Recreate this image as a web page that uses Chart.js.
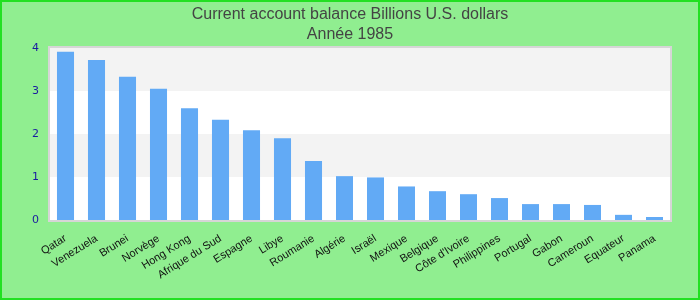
<!DOCTYPE html>
<html>
<head>
<meta charset="utf-8">
<script src="https://cdn.jsdelivr.net/npm/chart.js@4/dist/chart.umd.min.js"></script>
<style>
  body{margin:0;}
  #wrap{width:700px;height:300px;box-sizing:border-box;border:2px solid #22e022;background:#90ee90;position:relative;}
</style>
</head>
<body>
<div id="wrap"><canvas id="chart"></canvas></div>
<script>
const countries = ["Qatar","Venezuela","Brunei","Norvège","Hong Kong","Afrique du Sud","Espagne","Libye","Roumanie","Algérie",
  "Israël","Mexique","Belgique","Côte d'Ivoire","Philippines","Portugal","Gabon","Cameroun","Equateur","Panama"];
const balance = [3.91,3.72,3.33,3.05,2.6,2.33,2.09,1.9,1.37,1.02,0.99,0.78,0.67,0.6,0.51,0.37,0.37,0.35,0.12,0.07];
const yTicks = [0,1,2,3,4];
const titleLines = ["Current account balance Billions U.S. dollars","Année 1985"];

// alternating bands + light frame around the plot
const bands = {
  id:"bands",
  beforeDatasetsDraw(chart){
    const c = chart.ctx, a = chart.chartArea, y = chart.scales.y;
    c.save();
    for(let i=0;i<yTicks.length-1;i++){
      const top = Math.round(y.getPixelForValue(yTicks[i+1]));
      const bot = Math.round(y.getPixelForValue(yTicks[i]));
      c.fillStyle = (i%2==0) ? "#ffffff" : "#f3f3f3";
      c.fillRect(a.left, top, a.right-a.left, bot-top);
    }
    c.restore();
  },
  afterDatasetsDraw(chart){
    const c = chart.ctx, a = chart.chartArea;
    c.save();
    c.strokeStyle="#d6d6d6";
    c.lineWidth=2;
    c.strokeRect(a.left-1, a.top-1, a.right-a.left+2, a.bottom-a.top+2);
    c.restore();
  }
};

new Chart(document.getElementById("chart"),{
  type:"bar",
  data:{labels:countries,datasets:[{
    data:balance,
    backgroundColor:"#62aaf5",
    barPercentage:0.55,
    categoryPercentage:1
  }]},
  options:{
    responsive:true,
    maintainAspectRatio:false,
    animation:false,
    layout:{padding:{left:0,right:0,top:3,bottom:0}},
    plugins:{
      legend:{display:false},
      tooltip:{enabled:false},
      title:{display:true,text:titleLines,color:"#444",
        font:{family:"Liberation Sans, Arial",size:16,weight:"normal",lineHeight:1.25},
        padding:{top:0,bottom:3}}
    },
    scales:{
      x:{
        grid:{display:false},
        border:{display:false},
        afterFit(s){s.height=78;},
        ticks:{color:"#111",font:{family:"Liberation Sans, Arial",size:11},minRotation:32,maxRotation:32,autoSkip:false,padding:4}
      },
      y:{
        min:0,max:4,
        afterBuildTicks(s){s.ticks=yTicks.map(v=>({value:v}));},
        afterFit(s){s.width=48;},
        grid:{display:false},
        border:{display:false},
        ticks:{color:"#1a1aa0",font:{family:"DejaVu Sans",size:11},padding:3}
      },
      yRight:{
        position:"right",
        min:0,max:4,
        afterFit(s){s.width=28;},
        grid:{display:false},
        border:{display:false},
        ticks:{display:false}
      }
    }
  },
  plugins:[bands]
});
</script>
</body>
</html>
